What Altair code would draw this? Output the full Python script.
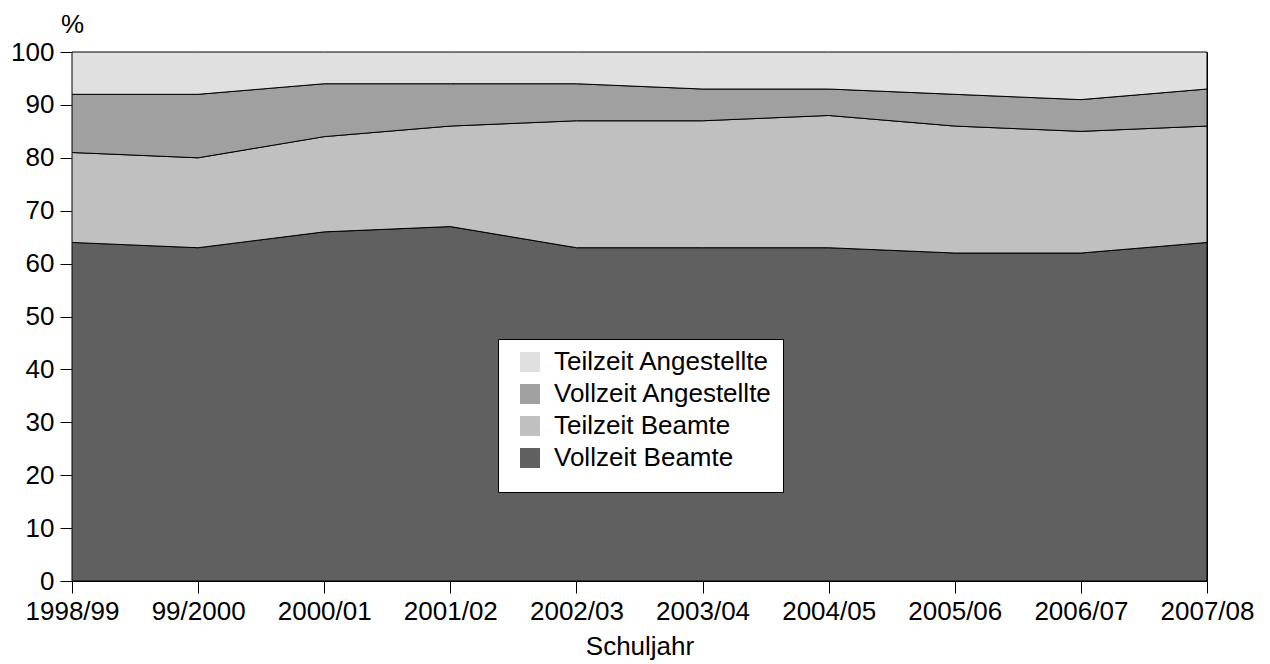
import altair as alt
import pandas as pd

years = ["1998/99", "99/2000", "2000/01", "2001/02", "2002/03",
         "2003/04", "2004/05", "2005/06", "2006/07", "2007/08"]
vollzeit_beamte = [64, 63, 66, 67, 63, 63, 63, 62, 62, 64]
teilzeit_beamte = [17, 17, 18, 19, 24, 24, 25, 24, 23, 22]
vollzeit_angestellte = [11, 12, 10, 8, 7, 6, 5, 6, 6, 7]
teilzeit_angestellte = [8, 8, 6, 6, 6, 7, 7, 8, 9, 7]

legend_order = ["Teilzeit Angestellte", "Vollzeit Angestellte", "Teilzeit Beamte", "Vollzeit Beamte"]
colors = ["#e0e0e0", "#a0a0a0", "#c0c0c0", "#606060"]

stack = [
    ("Vollzeit Beamte", vollzeit_beamte),
    ("Teilzeit Beamte", teilzeit_beamte),
    ("Vollzeit Angestellte", vollzeit_angestellte),
    ("Teilzeit Angestellte", teilzeit_angestellte),
]
rows = []
for rank, (name, vals) in enumerate(stack):
    for y, v in zip(years, vals):
        rows.append({"Schuljahr": y, "Art": name, "Wert": v, "rank": rank})
df = pd.DataFrame(rows)

FS = 26

chart = alt.Chart(df).mark_area(stroke="black", strokeWidth=1).encode(
    x=alt.X("Schuljahr:N", sort=years,
            scale=alt.Scale(type="point", padding=0),
            axis=alt.Axis(labelAngle=0, title="Schuljahr", tickSize=12,
                          labelPadding=5, titlePadding=9,
                          labelFontSize=FS, titleFontSize=FS,
                          titleFontWeight="normal", domainColor="black",
                          tickColor="black", labelColor="black",
                          titleColor="black", labelOverlap=False)),
    y=alt.Y("Wert:Q", stack="zero",
            scale=alt.Scale(domain=[0, 100], nice=False),
            axis=alt.Axis(values=list(range(0, 101, 10)), title="%",
                          titleAngle=0, titleX=0, titleY=-20,
                          titleAlign="center", titleBaseline="alphabetic",
                          grid=False, tickSize=12, labelPadding=6,
                          labelFontSize=FS, titleFontSize=FS,
                          titleFontWeight="normal", domainColor="black",
                          tickColor="black", labelColor="black",
                          titleColor="black")),
    color=alt.Color("Art:N",
                    scale=alt.Scale(domain=legend_order, range=colors),
                    legend=alt.Legend(title=" ", titleOrient="bottom",
                                      titleFontSize=6, titlePadding=5,
                                      orient="none",
                                      legendX=426, legendY=287,
                                      padding=10, strokeColor="black",
                                      fillColor="white",
                                      symbolType="square", symbolSize=400,
                                      symbolStrokeWidth=0, symbolOffset=9,
                                      labelFontSize=FS, labelColor="black",
                                      labelOffset=11, labelLimit=400,
                                      rowPadding=6)),
    order=alt.Order("rank:Q"),
).properties(
    width=1135, height=529,
    autosize=alt.AutoSizeParams(type="none"),
    padding={"left": 64, "top": 44, "right": 55, "bottom": 80},
).configure(
    font="Liberation Sans",
).configure_view(
    stroke="black", strokeWidth=1,
)

chart.save("out.html", embed_options={"renderer": "svg", "actions": False})
